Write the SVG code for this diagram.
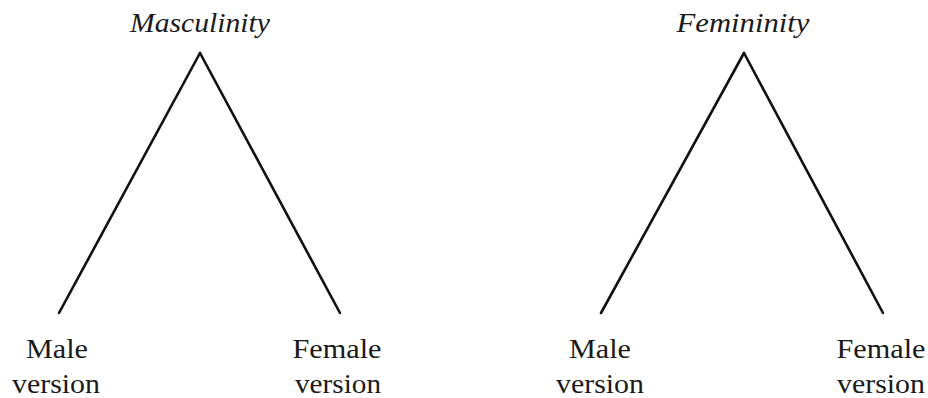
<svg xmlns="http://www.w3.org/2000/svg" width="928" height="398" viewBox="0 0 928 398">
<style>
text{font-family:'Liberation Serif','Times New Roman',Times,serif;font-size:28px;fill:#1a1a1a;text-anchor:middle}
.h{font-style:italic;font-size:27px}
.c{stroke:#111;stroke-width:2.6;fill:none;stroke-linecap:round}
</style>
<rect width="928" height="398" fill="#fff"/>
<g id="connectors">
<line class="c" x1="200" y1="53" x2="59" y2="313"/>
<line class="c" x1="200" y1="53" x2="340" y2="313"/>
<line class="c" x1="744" y1="53" x2="601" y2="313"/>
<line class="c" x1="744" y1="53" x2="883" y2="313"/>
</g>
<g id="masculinity"><text class="h" x="200" y="32" textLength="140" lengthAdjust="spacingAndGlyphs">Masculinity</text></g>
<g id="femininity"><text class="h" x="743" y="32" textLength="133" lengthAdjust="spacingAndGlyphs">Femininity</text></g>
<g id="m-male"><text x="57" y="358" textLength="62" lengthAdjust="spacingAndGlyphs">Male</text><text x="56" y="393" textLength="88" lengthAdjust="spacingAndGlyphs">version</text></g>
<g id="m-female"><text x="337" y="358" textLength="89" lengthAdjust="spacingAndGlyphs">Female</text><text x="338" y="393" textLength="86" lengthAdjust="spacingAndGlyphs">version</text></g>
<g id="f-male"><text x="600" y="358" textLength="62" lengthAdjust="spacingAndGlyphs">Male</text><text x="600" y="393" textLength="88" lengthAdjust="spacingAndGlyphs">version</text></g>
<g id="f-female"><text x="881" y="358" textLength="89" lengthAdjust="spacingAndGlyphs">Female</text><text x="881" y="393" textLength="88" lengthAdjust="spacingAndGlyphs">version</text></g>
</svg>
